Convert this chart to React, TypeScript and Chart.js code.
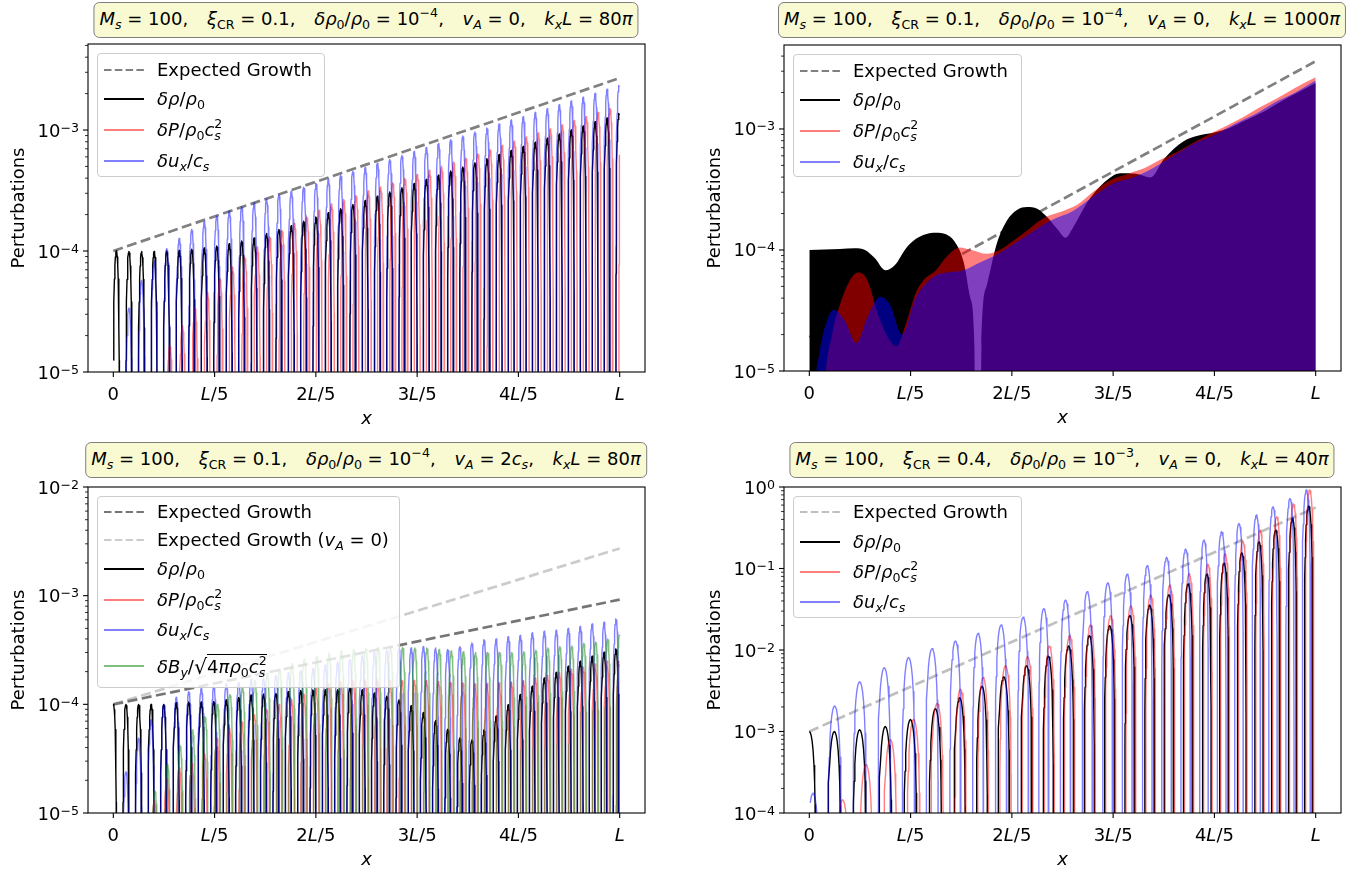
import React, { useEffect, useRef } from "react";
import { Chart, registerables } from "chart.js";
Chart.register(...registerables);

const W = 1370;
const H = 874;
const FONT = '"DejaVu Sans", "Liberation Sans", sans-serif';

// ---------------- axis text ----------------
const X_TICK_VALUES = [0, 0.2, 0.4, 0.6, 0.8, 1];
const X_TICK_LABELS = ["0", "L/5", "2L/5", "3L/5", "4L/5", "L"];
const X_LABEL = "x";
const Y_LABEL = "Perturbations";

// ---------------- hump shape (read as fraction of peak) ----------------
const PROFILE_T = [0, 0.15, 0.3, 0.45, 0.6, 0.75, 0.85, 0.92, 0.97, 0.985, 0.995, 0.999, 1];
const PROFILE_V = [1, 0.9724, 0.891, 0.7604, 0.5878, 0.3827, 0.2334, 0.1253, 0.0471, 0.0236, 0.00785, 0.00157, 1e-9];

// ---------------- top-left: kxL = 80π, vA = 0 ----------------
const TL_EXP_X = [0, 1];
const TL_EXP_Y = [1e-4, 2.69e-3];
const TL_CENTERS = [0.0059, 0.0308, 0.0557, 0.0805, 0.1053, 0.1301, 0.1548, 0.1795, 0.2042, 0.2288, 0.2534, 0.2779, 0.3025, 0.327, 0.3514, 0.3758, 0.4002, 0.4245, 0.4488, 0.4731, 0.4974, 0.5216, 0.5458, 0.5699, 0.594, 0.6181, 0.6421, 0.6661, 0.6901, 0.714, 0.7379, 0.7618, 0.7856, 0.8094, 0.8332, 0.8569, 0.8806, 0.9042, 0.9278, 0.9514, 0.975, 0.9985];
const TL_BLACK = [1.0e-4, 0.99e-4, 0.99e-4, 0.99e-4, 1.0e-4, 1.01e-4, 1.035e-4, 1.06e-4, 1.1e-4, 1.15e-4, 1.21e-4, 1.28e-4, 1.4e-4, 1.51e-4, 1.62e-4, 1.76e-4, 1.91e-4, 2.07e-4, 2.24e-4, 2.42e-4, 2.62e-4, 2.84e-4, 3.08e-4, 3.33e-4, 3.61e-4, 3.91e-4, 4.23e-4, 4.58e-4, 4.95e-4, 5.36e-4, 5.8e-4, 6.27e-4, 6.79e-4, 7.33e-4, 7.93e-4, 8.57e-4, 9.27e-4, 1.0e-3, 1.08e-3, 1.17e-3, 1.26e-3, 1.37e-3];
const TL_RED = [1e-6, 2e-6, 4e-6, 8e-6, 1.66e-5, 2.4e-5, 3.39e-5, 4.52e-5, 5.94e-5, 7.36e-5, 8.85e-5, 1.08e-4, 1.31e-4, 1.48e-4, 1.69e-4, 1.91e-4, 2.17e-4, 2.45e-4, 2.67e-4, 2.88e-4, 3.13e-4, 3.39e-4, 3.66e-4, 3.97e-4, 4.3e-4, 4.65e-4, 5.03e-4, 5.44e-4, 5.89e-4, 6.38e-4, 6.9e-4, 7.46e-4, 8.09e-4, 8.75e-4, 9.46e-4, 1.02e-3, 1.1e-3, 1.2e-3, 1.29e-3, 1.4e-3, 1.51e-3, 1.63e-3];
const TL_BLUE = [3e-6, 3.39e-5, 5.75e-5, 8.22e-5, 1.05e-4, 1.27e-4, 1.51e-4, 1.75e-4, 1.95e-4, 2.14e-4, 2.32e-4, 2.5e-4, 2.69e-4, 2.9e-4, 3.12e-4, 3.37e-4, 3.63e-4, 3.92e-4, 4.23e-4, 4.56e-4, 4.91e-4, 5.31e-4, 5.71e-4, 6.17e-4, 6.64e-4, 7.16e-4, 7.71e-4, 8.3e-4, 8.95e-4, 9.64e-4, 1.04e-3, 1.12e-3, 1.21e-3, 1.29e-3, 1.4e-3, 1.5e-3, 1.62e-3, 1.74e-3, 1.87e-3, 2.01e-3, 2.17e-3, 2.33e-3];
const TL_RED_SHIFT = 0.25;
const TL_BLUE_SHIFT = 0;

// ---------------- top-right: kxL = 1000π (dense, envelopes) ----------------
const TR_EXP_X = [0, 1];
const TR_EXP_Y = [1.9e-5, 3.63e-3];
const TR_BLACK_X = [0, 0.03, 0.06, 0.09, 0.11, 0.13, 0.15, 0.17, 0.19, 0.21, 0.23, 0.25, 0.27, 0.29, 0.305, 0.318, 0.326, 0.333, 0.34, 0.35, 0.37, 0.39, 0.41, 0.43, 0.45, 0.47, 0.49, 0.506, 0.52, 0.55, 0.58, 0.615, 0.645, 0.674, 0.7, 0.74, 0.773, 0.8, 0.83, 0.86, 0.9, 0.95, 1.0];
const TR_BLACK = [1.0e-4, 1.01e-4, 1.02e-4, 1.035e-4, 1.0e-4, 8.5e-5, 6.8e-5, 7.6e-5, 1.02e-4, 1.23e-4, 1.35e-4, 1.39e-4, 1.35e-4, 1.12e-4, 7.9e-5, 4.0e-5, 1.6e-5, 1e-9, 1.6e-5, 5.0e-5, 1.12e-4, 1.74e-4, 2.14e-4, 2.26e-4, 2.19e-4, 1.86e-4, 1.48e-4, 1.26e-4, 1.51e-4, 2.51e-4, 3.55e-4, 4.31e-4, 4.27e-4, 3.98e-4, 5.62e-4, 7.94e-4, 8.91e-4, 9.33e-4, 1.02e-3, 1.17e-3, 1.41e-3, 1.86e-3, 2.4e-3];
const TR_RED_X = [0, 0.03, 0.045, 0.06, 0.08, 0.097, 0.115, 0.135, 0.155, 0.172, 0.19, 0.21, 0.225, 0.25, 0.27, 0.297, 0.32, 0.35, 0.376, 0.4, 0.43, 0.463, 0.5, 0.529, 0.56, 0.595, 0.63, 0.661, 0.69, 0.727, 0.76, 0.793, 0.825, 0.858, 0.89, 0.924, 0.96, 1.0];
const TR_RED = [1e-9, 6.3e-6, 2.0e-5, 3.5e-5, 5.6e-5, 6.5e-5, 5.6e-5, 3.0e-5, 1.9e-5, 1.6e-5, 2.4e-5, 4.4e-5, 5.6e-5, 6.8e-5, 8.7e-5, 1.05e-4, 1.0e-4, 9.3e-5, 1.0e-4, 1.17e-4, 1.45e-4, 1.84e-4, 2.09e-4, 2.36e-4, 3.02e-4, 3.79e-4, 4.27e-4, 4.73e-4, 5.5e-4, 6.49e-4, 7.76e-4, 9.2e-4, 1.07e-3, 1.26e-3, 1.51e-3, 1.79e-3, 2.19e-3, 2.67e-3];
const TR_BLUE_X = [0, 0.009, 0.02, 0.035, 0.048, 0.07, 0.093, 0.115, 0.14, 0.16, 0.183, 0.21, 0.246, 0.272, 0.305, 0.338, 0.377, 0.404, 0.44, 0.48, 0.52, 0.56, 0.6, 0.64, 0.68, 0.72, 0.76, 0.8, 0.84, 0.88, 0.92, 0.96, 1.0];
const TR_BLUE = [1e-9, 3.2e-6, 1.4e-5, 2.6e-5, 3.2e-5, 2.6e-5, 1.7e-5, 2.8e-5, 4.1e-5, 3.5e-5, 2.0e-5, 4.0e-5, 6.0e-5, 6.5e-5, 6.8e-5, 7.9e-5, 9.5e-5, 1.12e-4, 1.41e-4, 1.78e-4, 2.09e-4, 2.75e-4, 3.55e-4, 3.98e-4, 4.79e-4, 6.03e-4, 7.59e-4, 8.91e-4, 1.1e-3, 1.32e-3, 1.66e-3, 2.0e-3, 2.51e-3];

// ---------------- bottom-left: kxL = 80π, vA = 2cs ----------------
const BL_EXP_X = [0, 1];
const BL_EXP_Y = [1e-4, 9.2e-4];
const BL_EXP0_Y = [1e-4, 2.72e-3];
const BL_CENTERS = [0, 0.0249, 0.0498, 0.0746, 0.0994, 0.1242, 0.1489, 0.1736, 0.1983, 0.2229, 0.2475, 0.272, 0.2966, 0.3211, 0.3455, 0.3699, 0.3943, 0.4186, 0.4429, 0.4672, 0.4915, 0.5157, 0.5399, 0.564, 0.5881, 0.6122, 0.6362, 0.6602, 0.6842, 0.7081, 0.732, 0.7559, 0.7797, 0.8035, 0.8273, 0.851, 0.8747, 0.8983, 0.9219, 0.9455, 0.9691, 0.9926];
const BL_BLACK = [1.0e-4, 1.0e-4, 1.0e-4, 1.0e-4, 1.0e-4, 1.035e-4, 1.05e-4, 1.05e-4, 1.065e-4, 1.1e-4, 1.16e-4, 1.22e-4, 1.245e-4, 1.26e-4, 1.31e-4, 1.34e-4, 1.355e-4, 1.36e-4, 1.36e-4, 1.42e-4, 1.36e-4, 1.27e-4, 1.19e-4, 1.1e-4, 9.7e-5, 8.4e-5, 7.1e-5, 5.9e-5, 4.9e-5, 4.7e-5, 5.8e-5, 7.8e-5, 9.9e-5, 1.23e-4, 1.47e-4, 1.75e-4, 1.97e-4, 2.24e-4, 2.49e-4, 2.77e-4, 3.02e-4, 3.24e-4];
const BL_RED = [1e-6, 3e-6, 6e-6, 1.3e-5, 2.1e-5, 2.6e-5, 2.9e-5, 3.5e-5, 4.9e-5, 6.0e-5, 7.0e-5, 8.0e-5, 9.0e-5, 1.0e-4, 1.1e-4, 1.25e-4, 1.4e-4, 1.55e-4, 1.62e-4, 1.66e-4, 1.68e-4, 1.68e-4, 1.68e-4, 1.67e-4, 1.66e-4, 1.65e-4, 1.62e-4, 1.6e-4, 1.58e-4, 1.56e-4, 1.56e-4, 1.58e-4, 1.6e-4, 1.65e-4, 1.75e-4, 1.85e-4, 1.95e-4, 2.1e-4, 2.2e-4, 2.35e-4, 2.5e-4, 2.5e-4];
const BL_BLUE = [3e-6, 2.4e-5, 4.9e-5, 7.2e-5, 1.0e-4, 1.16e-4, 1.31e-4, 1.4e-4, 1.45e-4, 1.55e-4, 1.6e-4, 1.7e-4, 1.75e-4, 1.85e-4, 1.95e-4, 2.05e-4, 2.15e-4, 2.3e-4, 2.45e-4, 2.6e-4, 2.8e-4, 3.0e-4, 3.15e-4, 3.25e-4, 3.3e-4, 3.4e-4, 3.3e-4, 3.2e-4, 3.4e-4, 3.67e-4, 3.94e-4, 4.0e-4, 4.2e-4, 4.3e-4, 4.55e-4, 4.7e-4, 4.8e-4, 5.0e-4, 5.2e-4, 5.5e-4, 5.7e-4, 6.1e-4];
const BL_GREEN = [2e-6, 4e-6, 8e-6, 1.6e-5, 2.8e-5, 4.2e-5, 5.8e-5, 7.7e-5, 1.0e-4, 1.23e-4, 1.45e-4, 1.67e-4, 1.93e-4, 2.14e-4, 2.38e-4, 2.6e-4, 2.79e-4, 2.95e-4, 3.1e-4, 3.2e-4, 3.3e-4, 3.35e-4, 3.35e-4, 3.35e-4, 3.3e-4, 3.3e-4, 3.2e-4, 3.1e-4, 3.05e-4, 3.0e-4, 3.0e-4, 3.0e-4, 3.0e-4, 3.05e-4, 3.15e-4, 3.3e-4, 3.4e-4, 3.45e-4, 3.65e-4, 3.75e-4, 4.0e-4, 4.4e-4];
const BL_RED_SHIFT = 0.25;
const BL_BLUE_SHIFT = 0;
const BL_GREEN_SHIFT = 0.3;

// ---------------- bottom-right: kxL = 40π, xi = 0.4 ----------------
const BR_EXP_X = [0, 1];
const BR_EXP_Y = [1e-3, 0.56];
const BR_BLACK_X = [0, 0.0494, 0.0994, 0.15, 0.1996, 0.249, 0.297, 0.341, 0.384, 0.429, 0.472, 0.512, 0.553, 0.593, 0.633, 0.672, 0.71, 0.748, 0.785, 0.819, 0.854, 0.888, 0.921, 0.954, 0.986];
const BR_BLACK = [1.0e-3, 1.0e-3, 1.05e-3, 1.15e-3, 1.4e-3, 1.9e-3, 2.6e-3, 3.6e-3, 4.7e-3, 6.4e-3, 8.4e-3, 1.12e-2, 1.5e-2, 1.99e-2, 2.66e-2, 3.56e-2, 4.78e-2, 6.45e-2, 8.57e-2, 0.116, 0.156, 0.213, 0.297, 0.413, 0.585];
const BR_RED_X = [0.005, 0.0658, 0.112, 0.16, 0.206, 0.2524, 0.2984, 0.3433, 0.3874, 0.431, 0.474, 0.514, 0.555, 0.595, 0.635, 0.674, 0.712, 0.75, 0.787, 0.821, 0.856, 0.89, 0.923, 0.956, 0.988];
const BR_RED = [2e-5, 1.45e-4, 3.9e-4, 8.0e-4, 1.4e-3, 2.2e-3, 3.3e-3, 4.6e-3, 6.4e-3, 8.3e-3, 1.12e-2, 1.5e-2, 2.03e-2, 2.64e-2, 3.5e-2, 4.73e-2, 6.28e-2, 8.6e-2, 0.113, 0.151, 0.217, 0.297, 0.433, 0.62, 0.92];
const BR_BLUE_X = [0.0073, 0.05, 0.0994, 0.148, 0.196, 0.2424, 0.2885, 0.3333, 0.3788, 0.4223, 0.4631, 0.5059, 0.5488, 0.5895, 0.6278, 0.6674, 0.7055, 0.7431, 0.7793, 0.8142, 0.8484, 0.8828, 0.9156, 0.9492, 0.9816];
const BR_BLUE = [1.75e-4, 2.06e-3, 4.08e-3, 6.07e-3, 8.1e-3, 1.04e-2, 1.29e-2, 1.6e-2, 2.03e-2, 2.52e-2, 3.24e-2, 4.1e-2, 5.2e-2, 6.7e-2, 8.5e-2, 0.108, 0.137, 0.173, 0.224, 0.283, 0.358, 0.453, 0.574, 0.726, 0.92];

// ---------------- colours ----------------
const C_BLACK = "#000000";
const C_RED = "rgba(255,0,0,0.5)";
const C_BLUE = "rgba(0,0,255,0.5)";
const C_GREEN = "rgba(0,128,0,0.5)";
const C_EXP = "#808080";
const C_EXP_DARK = "#757575";
const C_EXP_LIGHT = "rgba(128,128,128,0.4)";
const C_EXP_BR = "rgba(128,128,128,0.5)";

// ---------------- builders ----------------
type Pt = { x: number; y: number | null };

function spacingOf(c: number[], k: number) {
  return k < c.length - 1 ? c[k + 1] - c[k] : c[k] - c[k - 1];
}

function humps(centers: number[], peaks: number[], shift: number, ref: number[]): Pt[] {
  const out: Pt[] = [];
  for (let k = 0; k < peaks.length; k++) {
    const s = spacingOf(ref, k);
    const c = centers[k] + shift * s;
    const hw = s / 4;
    for (let i = PROFILE_T.length - 1; i >= 1; i--) {
      const x = c - PROFILE_T[i] * hw;
      if (x >= 0 && x <= 1) out.push({ x, y: peaks[k] * PROFILE_V[i] });
    }
    for (let i = 0; i < PROFILE_T.length; i++) {
      const x = c + PROFILE_T[i] * hw;
      if (x >= 0 && x <= 1) out.push({ x, y: peaks[k] * PROFILE_V[i] });
    }
    out.push({ x: Math.min(c + hw, 1), y: null });
  }
  return out;
}

function pairs(xs: number[], ys: number[]): Pt[] {
  return xs.map((x, i) => ({ x, y: ys[i] }));
}

function lineDs(data: Pt[], color: string, width = 1.4, dash: number[] = []) {
  return {
    data,
    borderColor: color,
    backgroundColor: color,
    borderWidth: width,
    borderDash: dash,
    borderCapStyle: "butt",
    borderJoinStyle: "round",
    pointRadius: 0,
    fill: false,
    spanGaps: false,
    tension: 0,
  };
}

function fillDs(data: Pt[], color: string) {
  return {
    data,
    borderColor: "rgba(0,0,0,0)",
    backgroundColor: color,
    borderWidth: 0,
    pointRadius: 0,
    fill: "start",
    spanGaps: false,
    cubicInterpolationMode: "monotone",
  };
}

const DASH = [10, 4.5];

type Panel = {
  area: { l: number; r: number; t: number; b: number };
  yMin: number;
  yMax: number;
  datasets: () => any[];
};

const PANELS: Panel[] = [
  {
    area: { l: 88, r: 645, t: 44, b: 372 },
    yMin: 1e-5,
    yMax: 5.14e-3,
    datasets: () => [
      lineDs(pairs(TL_EXP_X, TL_EXP_Y), C_EXP, 2.7, DASH),
      lineDs(humps(TL_CENTERS, TL_BLACK, 0, TL_CENTERS), C_BLACK),
      lineDs(humps(TL_CENTERS, TL_RED, TL_RED_SHIFT, TL_CENTERS), C_RED),
      lineDs(humps(TL_CENTERS, TL_BLUE, TL_BLUE_SHIFT, TL_CENTERS), C_BLUE),
    ],
  },
  {
    area: { l: 784, r: 1341, t: 45, b: 371 },
    yMin: 1e-5,
    yMax: 4.94e-3,
    datasets: () => [
      lineDs(pairs(TR_EXP_X, TR_EXP_Y), C_EXP, 2.7, DASH),
      fillDs(pairs(TR_BLACK_X, TR_BLACK), C_BLACK),
      fillDs(pairs(TR_RED_X, TR_RED), C_RED),
      fillDs(pairs(TR_BLUE_X, TR_BLUE), C_BLUE),
    ],
  },
  {
    area: { l: 88, r: 645, t: 487, b: 813 },
    yMin: 1e-5,
    yMax: 1e-2,
    datasets: () => [
      lineDs(pairs(BL_EXP_X, BL_EXP_Y), C_EXP_DARK, 2.7, DASH),
      lineDs(pairs(BL_EXP_X, BL_EXP0_Y), C_EXP_LIGHT, 2.7, DASH),
      lineDs(humps(BL_CENTERS, BL_BLACK, 0, BL_CENTERS), C_BLACK),
      lineDs(humps(BL_CENTERS, BL_RED, BL_RED_SHIFT, BL_CENTERS), C_RED),
      lineDs(humps(BL_CENTERS, BL_BLUE, BL_BLUE_SHIFT, BL_CENTERS), C_BLUE),
      lineDs(humps(BL_CENTERS, BL_GREEN, BL_GREEN_SHIFT, BL_CENTERS), C_GREEN),
    ],
  },
  {
    area: { l: 784, r: 1341, t: 487, b: 813 },
    yMin: 1e-4,
    yMax: 1,
    datasets: () => [
      lineDs(pairs(BR_EXP_X, BR_EXP_Y), C_EXP_BR, 2.7, DASH),
      lineDs(humps(BR_BLACK_X, BR_BLACK, 0, BR_BLACK_X), C_BLACK),
      lineDs(humps(BR_RED_X, BR_RED, 0, BR_BLACK_X), C_RED),
      lineDs(humps(BR_BLUE_X, BR_BLUE, 0, BR_BLACK_X), C_BLUE),
    ],
  },
];

// ---------------- axes plugin (matplotlib-like frame, ticks, labels) ----------------
function drawTickLabel(ctx: CanvasRenderingContext2D, text: string, cx: number, baseline: number) {
  const segs = text.split(/(L)/).filter((s) => s.length > 0).map((t) => ({ t, it: t === "L", w: 0 }));
  let total = 0;
  segs.forEach((s) => {
    ctx.font = (s.it ? "italic " : "") + "18px " + FONT;
    s.w = ctx.measureText(s.t).width;
    total += s.w;
  });
  let x = cx - total / 2;
  ctx.textAlign = "left";
  ctx.textBaseline = "alphabetic";
  segs.forEach((s) => {
    ctx.font = (s.it ? "italic " : "") + "18px " + FONT;
    ctx.fillText(s.t, x, baseline);
    x += s.w;
  });
}

const axesPlugin = {
  id: "mplAxes",
  afterDraw(chart: any) {
    const ctx: CanvasRenderingContext2D = chart.ctx;
    const a = chart.chartArea;
    const xs = chart.scales.x;
    const ys = chart.scales.y;
    ctx.save();
    ctx.fillStyle = "#000";
    ctx.strokeStyle = "#000";

    ctx.lineWidth = 1.1;
    X_TICK_VALUES.forEach((v, i) => {
      const px = xs.getPixelForValue(v);
      ctx.beginPath();
      ctx.moveTo(px, a.bottom);
      ctx.lineTo(px, a.bottom + 5);
      ctx.stroke();
      drawTickLabel(ctx, X_TICK_LABELS[i], px, a.bottom + 28);
    });

    const e0 = Math.floor(Math.log10(ys.min) + 1e-9);
    const e1 = Math.ceil(Math.log10(ys.max) - 1e-9);
    for (let e = e0; e <= e1; e++) {
      for (let m = 1; m <= 9; m++) {
        const v = m * Math.pow(10, e);
        if (v < ys.min * 0.9999 || v > ys.max * 1.0001) continue;
        const py = ys.getPixelForValue(v);
        const major = m === 1;
        ctx.lineWidth = major ? 1.1 : 0.8;
        ctx.beginPath();
        ctx.moveTo(a.left, py);
        ctx.lineTo(a.left - (major ? 5 : 3), py);
        ctx.stroke();
        if (major) {
          const exp = e < 0 ? "\u2212" + Math.abs(e) : String(e);
          ctx.font = "12.6px " + FONT;
          const we = ctx.measureText(exp).width;
          ctx.font = "18px " + FONT;
          const wb = ctx.measureText("10").width;
          const right = a.left - 9;
          ctx.textAlign = "left";
          ctx.textBaseline = "alphabetic";
          ctx.fillText("10", right - we - wb, py + 6.5);
          ctx.font = "12.6px " + FONT;
          ctx.fillText(exp, right - we, py + 1.5);
        }
      }
    }

    ctx.lineWidth = 1.1;
    ctx.strokeRect(a.left, a.top, a.right - a.left, a.bottom - a.top);

    ctx.font = "italic 18px " + FONT;
    ctx.textAlign = "center";
    ctx.textBaseline = "alphabetic";
    ctx.fillText(X_LABEL, (a.left + a.right) / 2, a.bottom + 52);
    ctx.save();
    ctx.translate(a.left - 64, (a.top + a.bottom) / 2);
    ctx.rotate(-Math.PI / 2);
    ctx.font = "18px " + FONT;
    ctx.fillText(Y_LABEL, 0, 0);
    ctx.restore();

    ctx.restore();
  },
};

function PanelCanvas({ panel }: { panel: Panel }) {
  const ref = useRef<HTMLCanvasElement>(null);
  useEffect(() => {
    const ds = panel.datasets().map((d, i, arr) => ({ ...d, order: arr.length - i }));
    const { l, r, t, b } = panel.area;
    const chart = new Chart(ref.current as HTMLCanvasElement, {
      type: "line",
      data: { datasets: ds as any },
      options: {
        animation: false,
        responsive: false,
        devicePixelRatio: 1,
        events: [],
        layout: { padding: { left: l, top: t, right: W - r, bottom: H - b } },
        scales: {
          x: { type: "linear", min: -0.05, max: 1.05, display: false },
          y: { type: "logarithmic", min: panel.yMin, max: panel.yMax, display: false },
        },
        plugins: {
          legend: { display: false },
          tooltip: { enabled: false },
          title: { display: false },
        },
      } as any,
      plugins: [axesPlugin as any],
    });
    return () => chart.destroy();
  }, []);
  return <canvas ref={ref} width={W} height={H} style={{ position: "absolute", left: 0, top: 0 }} />;
}

// ---------------- math text helpers ----------------
const I = (p: { children: any }) => <span style={{ fontStyle: "italic" }}>{p.children}</span>;
const Sub = (p: { children: any; it?: boolean }) => (
  <span style={{ fontSize: "0.7em", position: "relative", top: "0.3em", fontStyle: p.it ? "italic" : "normal" }}>{p.children}</span>
);
const Sup = (p: { children: any }) => (
  <span style={{ fontSize: "0.7em", position: "relative", top: "-0.6em" }}>{p.children}</span>
);
const SubSup = (p: { sub: string; sup: string }) => (
  <span style={{ display: "inline-block", position: "relative", fontSize: "0.7em" }}>
    <span style={{ visibility: "hidden" }}>{p.sup}</span>
    <span style={{ position: "absolute", left: 0, top: "-0.6em" }}>{p.sup}</span>
    <span style={{ position: "absolute", left: 0, top: "0.3em", fontStyle: "italic" }}>{p.sub}</span>
  </span>
);
const Comma = () => <span style={{ paddingRight: 13 }}>,</span>;

const LABELS: Record<string, any> = {
  exp: <>Expected Growth</>,
  exp0: (
    <>
      Expected Growth (<I>v</I>
      <Sub it>A</Sub> = 0)
    </>
  ),
  rho: (
    <>
      <I>δρ</I>/<I>ρ</I>
      <Sub>0</Sub>
    </>
  ),
  P: (
    <>
      <I>δP</I>/<I>ρ</I>
      <Sub>0</Sub>
      <I>c</I>
      <SubSup sub="s" sup="2" />
    </>
  ),
  u: (
    <>
      <I>δu</I>
      <Sub it>x</Sub>/<I>c</I>
      <Sub it>s</Sub>
    </>
  ),
  B: (
    <>
      <I>δB</I>
      <Sub it>y</Sub>/
      <span style={{ fontSize: "1.15em", position: "relative", top: "0.06em" }}>√</span>
      <span style={{ borderTop: "1.4px solid #000", paddingTop: 1 }}>
        4<I>πρ</I>
        <Sub>0</Sub>
        <I>c</I>
        <SubSup sub="s" sup="2" />
      </span>
    </>
  ),
};

type LegendItem = { key: string; color: string; dash?: boolean };
type LegendSpec = { left: number; top: number; width: number; height: number; rows: number[]; items: LegendItem[] };

const LEGENDS: LegendSpec[] = [
  {
    left: 97, top: 53, width: 228, height: 124, rows: [17, 46, 77, 108],
    items: [
      { key: "exp", color: C_EXP, dash: true },
      { key: "rho", color: C_BLACK },
      { key: "P", color: C_RED },
      { key: "u", color: C_BLUE },
    ],
  },
  {
    left: 793, top: 54, width: 229, height: 123, rows: [17, 46, 77, 108],
    items: [
      { key: "exp", color: C_EXP, dash: true },
      { key: "rho", color: C_BLACK },
      { key: "P", color: C_RED },
      { key: "u", color: C_BLUE },
    ],
  },
  {
    left: 97, top: 496, width: 303, height: 192, rows: [16, 44, 73, 104, 134, 170],
    items: [
      { key: "exp", color: C_EXP_DARK, dash: true },
      { key: "exp0", color: C_EXP_LIGHT, dash: true },
      { key: "rho", color: C_BLACK },
      { key: "P", color: C_RED },
      { key: "u", color: C_BLUE },
      { key: "B", color: C_GREEN },
    ],
  },
  {
    left: 793, top: 496, width: 229, height: 122, rows: [16, 46, 76, 106],
    items: [
      { key: "exp", color: C_EXP_BR, dash: true },
      { key: "rho", color: C_BLACK },
      { key: "P", color: C_RED },
      { key: "u", color: C_BLUE },
    ],
  },
];

function Legend({ spec }: { spec: LegendSpec }) {
  return (
    <div
      style={{
        position: "absolute", left: spec.left, top: spec.top, width: spec.width, height: spec.height,
        boxSizing: "border-box", border: "1px solid #cccccc", borderRadius: 4,
        background: "rgba(255,255,255,0.8)", fontFamily: FONT, fontSize: 18, color: "#000",
      }}
    >
      {spec.items.map((it, i) => (
        <div key={i} style={{ position: "absolute", left: 0, top: spec.rows[i] - 13, height: 24, width: "100%" }}>
          <svg width={44} height={24} style={{ position: "absolute", left: 5, top: 0 }}>
            <line x1={1} y1={12} x2={41} y2={12} stroke={it.color} strokeWidth={2} strokeDasharray={it.dash ? "7.5 3.3" : undefined} />
          </svg>
          <div style={{ position: "absolute", left: 59, top: 0, lineHeight: "24px", whiteSpace: "nowrap" }}>{LABELS[it.key]}</div>
        </div>
      ))}
    </div>
  );
}

type TitleSpec = { cx: number; top: number; xi: string; amp: string; va: string; kl: string };
const TITLES: TitleSpec[] = [
  { cx: 366, top: 2, xi: "0.1", amp: "4", va: "0", kl: "80" },
  { cx: 1062, top: 2, xi: "0.1", amp: "4", va: "0", kl: "1000" },
  { cx: 366, top: 442, xi: "0.1", amp: "4", va: "2cs", kl: "80" },
  { cx: 1062, top: 442, xi: "0.4", amp: "3", va: "0", kl: "40" },
];

function Title({ t }: { t: TitleSpec }) {
  return (
    <div
      style={{
        position: "absolute", left: t.cx, top: t.top, transform: "translateX(-50%)",
        background: "#FAFAD2", border: "1.5px solid #7f7f7f", borderRadius: 6,
        padding: "4px 5px", fontFamily: FONT, fontSize: 18, lineHeight: "24px", whiteSpace: "nowrap", color: "#000",
      }}
    >
      <I>M</I>
      <Sub it>s</Sub> = 100<Comma /> <I>ξ</I>
      <Sub>CR</Sub> = {t.xi}
      <Comma /> <I>δρ</I>
      <Sub>0</Sub>/<I>ρ</I>
      <Sub>0</Sub> = 10<Sup>{"\u2212" + t.amp}</Sup>
      <Comma /> <I>v</I>
      <Sub it>A</Sub> ={" "}
      {t.va === "2cs" ? (
        <>
          2<I>c</I>
          <Sub it>s</Sub>
        </>
      ) : (
        t.va
      )}
      <Comma /> <I>k</I>
      <Sub it>x</Sub>
      <I>L</I> = {t.kl}
      <I>π</I>
    </div>
  );
}

export default function App() {
  return (
    <div style={{ position: "absolute", left: 0, top: 0, width: W, height: H, overflow: "hidden", background: "#fff" }}>
      {PANELS.map((p, i) => (
        <PanelCanvas key={i} panel={p} />
      ))}
      {LEGENDS.map((l, i) => (
        <Legend key={i} spec={l} />
      ))}
      {TITLES.map((t, i) => (
        <Title key={i} t={t} />
      ))}
    </div>
  );
}
